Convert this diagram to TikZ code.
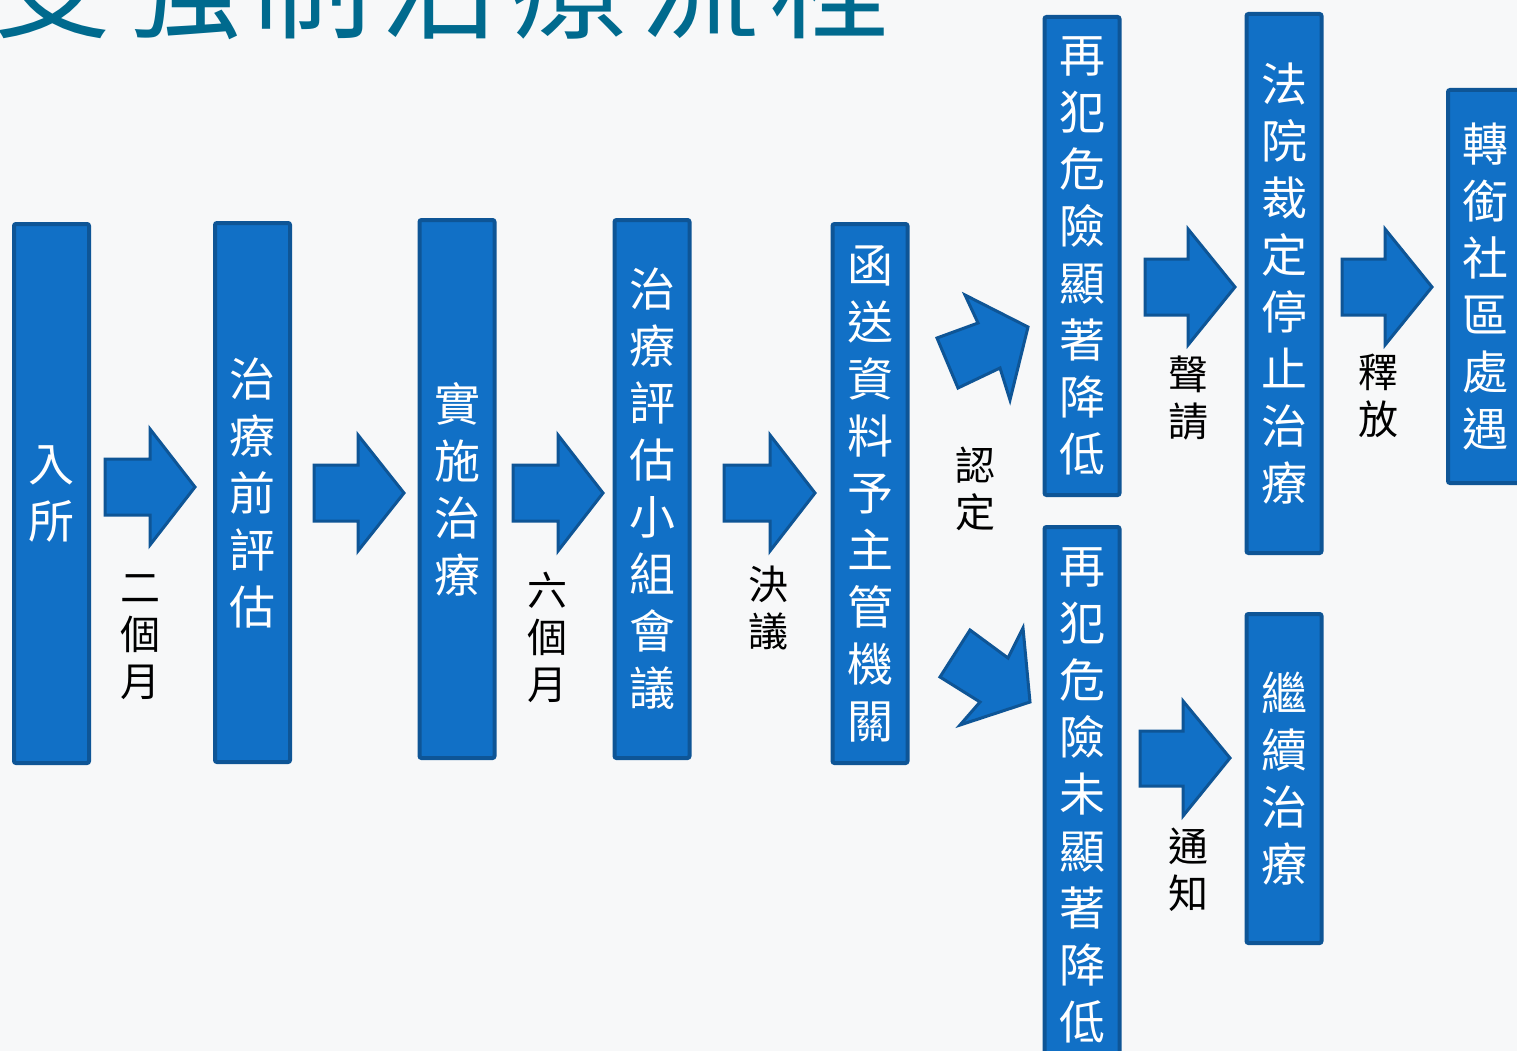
\documentclass[tikz,border=0pt]{standalone}
\usepackage{fontspec}
\newfontfamily\cjk{Noto Sans CJK TC}
\newfontfamily\cjktitle[LetterSpace=8]{Noto Sans CJK TC}
\definecolor{bgc}{HTML}{F7F8F9}
\definecolor{boxfill}{HTML}{1170C6}
\definecolor{boxline}{HTML}{0E5596}
\definecolor{titleteal}{HTML}{006A8E}
\begin{document}
\begin{tikzpicture}[x=1pt,y=-1pt,
  stage/.style={draw=boxline, line width=4pt, fill=boxfill, text=white,
    rounded corners=2pt, minimum width=75pt, inner sep=0pt, align=center,
    font=\cjk\fontsize{46}{57}\selectfont},
  lbl/.style={text=black, inner sep=0pt, align=center,
    font=\cjk\fontsize{40}{47}\selectfont},
  blockarrow/.style={draw=boxline, line width=3pt, fill=boxfill, line join=miter}]
\path[use as bounding box] (0,0) rectangle (1517,1051);
\clip (0,0) rectangle (1517,1051);
\fill[bgc] (0,0) rectangle (1517,1051);

% title (cropped at the top)
\node[anchor=base west, text=titleteal, inner sep=0pt,
  font=\cjktitle\fontsize{120}{120}\selectfont] (title) at (-8,30) {受強制治療流程};

% stages
\node[stage, minimum height=539pt] (b1) at (51.5,493.5) {入\\所};
\node[stage, minimum height=539pt] (b2) at (252.5,492.5) {治\\療\\前\\評\\估};
\node[stage, minimum height=538pt] (b3) at (457,489) {實\\施\\治\\療};
\node[stage, minimum height=538pt] (b4) at (652,489) {治\\療\\評\\估\\小\\組\\會\\議};
\node[stage, minimum height=539pt] (b5) at (870,493.5) {函\\送\\資\\料\\予\\主\\管\\機\\關};
\node[stage, minimum height=478pt] (b6) at (1082,256) {再\\犯\\危\\險\\顯\\著\\降\\低};
\node[stage, minimum height=536pt] (b7) at (1082,795) {再\\犯\\危\\險\\未\\顯\\著\\降\\低};
\node[stage, minimum height=539pt] (b8) at (1284,283.5) {法\\院\\裁\\定\\停\\止\\治\\療};
\node[stage, minimum height=393pt] (b9) at (1485.5,286.5) {轉\\銜\\社\\區\\處\\遇};
\node[stage, minimum height=329pt] (b10) at (1284,778.5) {繼\\續\\治\\療};

% block arrows
\draw[blockarrow] (105,459) -- (150,459) -- (150,429) -- (195,487) -- (150,545) -- (150,515) -- (105,515) -- cycle;
\draw[blockarrow] (314,465) -- (358,465) -- (358,435) -- (404,493) -- (358,551) -- (358,521) -- (314,521) -- cycle;
\draw[blockarrow] (513,465) -- (558,465) -- (558,435) -- (603,493) -- (558,551) -- (558,521) -- (513,521) -- cycle;
\draw[blockarrow] (724,465) -- (770,465) -- (770,435) -- (815,493) -- (770,551) -- (770,521) -- (724,521) -- cycle;
\draw[blockarrow] (937,338) -- (978,323) -- (965,295) -- (1028,327) -- (1010,400) -- (1000,368) -- (958,388) -- cycle;
\draw[blockarrow] (940,677) -- (970,630) -- (1008,658) -- (1023,628) -- (1030,702) -- (960,725) -- (980,702) -- cycle;
\draw[blockarrow] (1145,259) -- (1188,259) -- (1188,229) -- (1235,287) -- (1188,345) -- (1188,315) -- (1145,315) -- cycle;
\draw[blockarrow] (1342,259) -- (1385,259) -- (1385,229) -- (1432,287) -- (1385,345) -- (1385,315) -- (1342,315) -- cycle;
\draw[blockarrow] (1140,731) -- (1183,731) -- (1183,701) -- (1230,758) -- (1183,816) -- (1183,786) -- (1140,786) -- cycle;

% labels
\node[lbl] (l1) at (140,637) {二\\個\\月};
\node[lbl] (l2) at (547,637) {六\\個\\月};
\node[lbl] (l3) at (768,608) {決\\議};
\node[lbl] (l4) at (975,489) {認\\定};
\node[lbl] (l5) at (1188,398) {聲\\請};
\node[lbl] (l6) at (1378,396) {釋\\放};
\node[lbl] (l7) at (1188,870) {通\\知};
\end{tikzpicture}
\end{document}
